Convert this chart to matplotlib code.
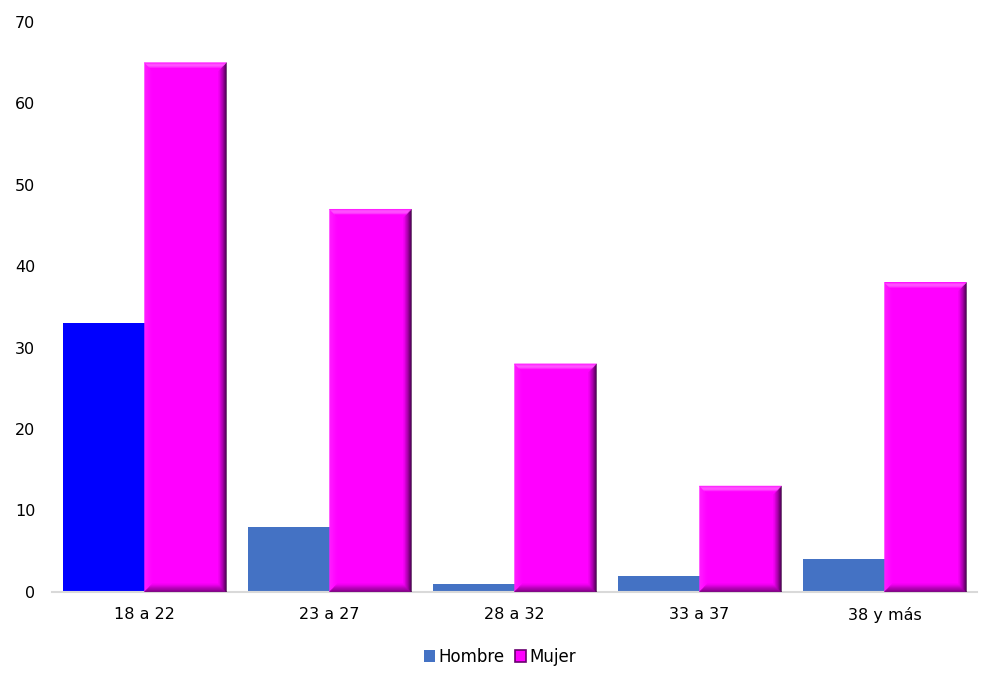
import numpy as np
import matplotlib.pyplot as plt
from matplotlib.patches import Polygon, Rectangle
from matplotlib.colors import to_rgb

# Datos
categorias = ['18 a 22', '23 a 27', '28 a 32', '33 a 37', '38 y más']
hombre = [33, 8, 1, 2, 4]
mujer = [65, 47, 28, 13, 38]

color_hombre = ['#0000FF', '#4472C4', '#4472C4', '#4472C4', '#4472C4']
color_mujer = '#FF00FF'

plt.rcParams['font.family'] = ['DejaVu Sans']

fig = plt.figure(figsize=(10, 6.85), dpi=100)
ax = fig.add_axes([0.052, 0.136, 0.925, 0.832])

x = np.arange(len(categorias))
ancho = 0.443
ax.bar(x - ancho / 2, hombre, ancho, color=color_hombre, zorder=2)
barras = ax.bar(x + ancho / 2, mujer, ancho, color=color_mujer, zorder=2)

ax.set_xlim(-0.5, len(categorias) - 0.5)
ax.set_ylim(0, 70)
ax.set_yticks(range(0, 71, 10))
ax.set_xticks(x)
ax.set_xticklabels(categorias)
ax.tick_params(length=0, labelsize=11.5, colors='#000000')
ax.tick_params(axis='x', pad=11)
ax.tick_params(axis='y', pad=12)
for lado in ['top', 'right', 'left']:
    ax.spines[lado].set_visible(False)
ax.spines['bottom'].set_color('#D9D9D9')
ax.spines['bottom'].set_linewidth(1.5)


# Efecto biselado para las barras de Mujer
def mezcla(c1, c2, t):
    a, b = np.array(to_rgb(c1)), np.array(to_rgb(c2))
    return tuple(a + (b - a) * t)


fig.canvas.draw()
inv = ax.transData.inverted()
p0 = inv.transform((0, 0))
p1 = inv.transform((8, 8))
bx, by = p1 - p0
n = 10
for r in barras:
    x0, y0 = r.get_x(), r.get_y()
    x1, y1 = x0 + r.get_width(), y0 + r.get_height()
    for i in range(n):
        a, b = i / n, (i + 1) / n
        t = i / n
        ax_, bx_ = a * bx, b * bx
        ay_, by_ = a * by, b * by
        arriba = [(x0 + ax_, y1 - ay_), (x1 - ax_, y1 - ay_),
                  (x1 - bx_, y1 - by_), (x0 + bx_, y1 - by_)]
        derecha = [(x1 - ax_, y1 - ay_), (x1 - ax_, y0 + ay_),
                   (x1 - bx_, y0 + by_), (x1 - bx_, y1 - by_)]
        abajo = [(x0 + ax_, y0 + ay_), (x1 - ax_, y0 + ay_),
                 (x1 - bx_, y0 + by_), (x0 + bx_, y0 + by_)]
        izquierda = [(x0 + ax_, y1 - ay_), (x0 + ax_, y0 + ay_),
                     (x0 + bx_, y0 + by_), (x0 + bx_, y1 - by_)]
        luz = 0.35 * np.sin(np.pi * min(1, t * 1.3 + 0.1))
        c_arr = mezcla(color_mujer, '#FFFFFF', luz)
        c_der = mezcla('#3A0040', color_mujer, t ** 0.8)
        c_aba = mezcla('#7A007F', color_mujer, t)
        c_izq = mezcla(color_mujer, '#FFFFFF', 0.12 * (1 - t))
        for pts, c in [(izquierda, c_izq), (abajo, c_aba),
                       (derecha, c_der), (arriba, c_arr)]:
            ax.add_patch(Polygon(pts, closed=True, facecolor=c,
                                 edgecolor=c, linewidth=0.3, zorder=3))

manejadores = [Rectangle((0, 0), 1, 1, facecolor='#4472C4'),
               Rectangle((0, 0), 1, 1, facecolor=color_mujer,
                         edgecolor='#6A0070', linewidth=1.2)]
fig.legend(manejadores, ['Hombre', 'Mujer'], loc='center',
           bbox_to_anchor=(0.5, 0.041), ncol=2, frameon=False,
           fontsize=12, handlelength=0.7, handleheight=0.7,
           handletextpad=0.2, columnspacing=0.6)

fig.savefig('out.png', dpi=100, facecolor='white')
